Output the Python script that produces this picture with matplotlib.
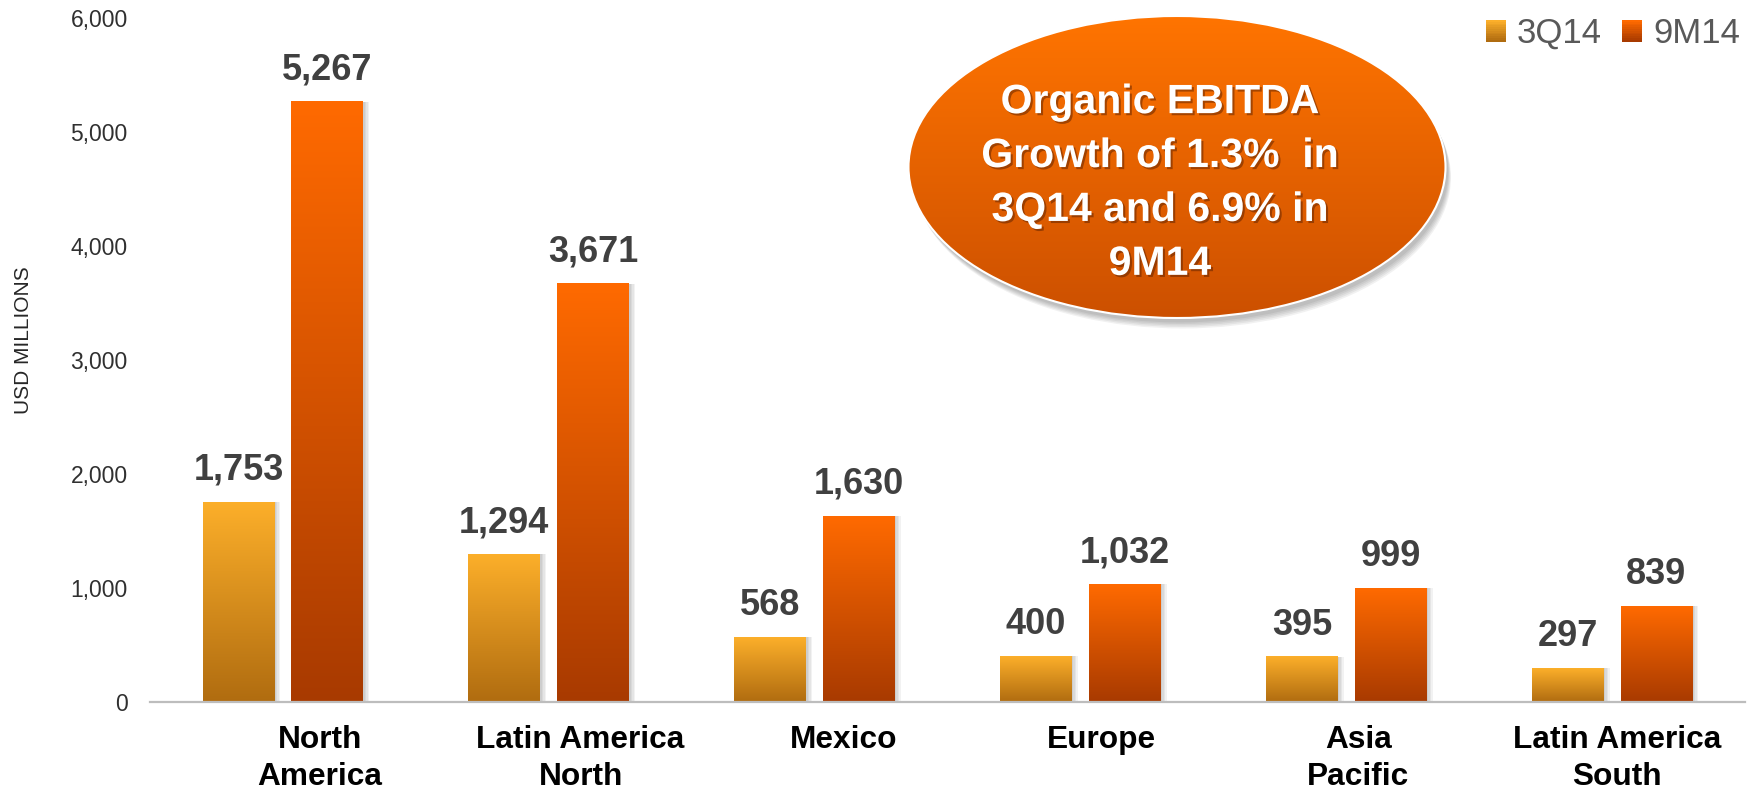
import numpy as np
import matplotlib
matplotlib.use('Agg')
import matplotlib.pyplot as plt
import matplotlib.patheffects as pe
from matplotlib import font_manager
from matplotlib.colors import to_rgb
from matplotlib.patches import Ellipse, Patch, Rectangle
from matplotlib.legend_handler import HandlerBase


# chart data
categories = ['North\nAmerica', 'Latin America\nNorth', 'Mexico', 'Europe',
              'Asia\nPacific', 'Latin America\nSouth']
values_3q14 = [1753, 1294, 568, 400, 395, 297]
values_9m14 = [5267, 3671, 1630, 1032, 999, 839]
series_names = ['3Q14', '9M14']
y_ticks = [0, 1000, 2000, 3000, 4000, 5000, 6000]
bubble_text = 'Organic EBITDA\nGrowth of 1.3%  in\n3Q14 and 6.9% in\n9M14'

# colours (top, bottom) of the gradients
col_3q = ('#FCAF2A', '#B06C10')
col_9m = ('#FF6A00', '#A83A00')
col_bubble = ('#FF7400', '#CC5000')

W, H = 1754, 794
FONT = 'Liberation Sans'


def gradient(top, bottom, n=256):
    # rows go bottom -> top (origin lower)
    t = np.linspace(0, 1, n)[:, None]
    c0 = np.array(to_rgb(bottom))
    c1 = np.array(to_rgb(top))
    g = c0 + (c1 - c0) * t
    return g[:, None, :]


class GradHandler(HandlerBase):
    def __init__(self, top, bottom):
        super().__init__()
        self.top = top
        self.bottom = bottom

    def create_artists(self, legend, orig_handle, xdescent, ydescent,
                       width, height, fontsize, trans):
        n = 12
        c0 = np.array(to_rgb(self.bottom))
        c1 = np.array(to_rgb(self.top))
        arts = []
        for i in range(n):
            c = c0 + (c1 - c0) * i / (n - 1)
            r = Rectangle((-xdescent, -ydescent + i * height / n), width,
                          height / n * 1.05, facecolor=c, edgecolor='none',
                          transform=trans)
            arts.append(r)
        return arts


def main():
    installed = {f.name for f in font_manager.fontManager.ttflist}
    if 'Liberation Sans Narrow' in installed:
        ylab_font, ylab_size = 'Liberation Sans Narrow', 17.5
    else:
        ylab_font, ylab_size = 'Liberation Sans', 15

    fig = plt.figure(figsize=(W / 100, H / 100), dpi=100)
    ax = fig.add_axes([150 / W, 1 - 702 / H, (1745 - 150) / W, (702 - 18) / H])

    x = np.arange(len(categories))
    bw = 0.27
    off = 0.167

    # soft shadows to the right of the bars
    px = 1 / 266.0
    for xs, vals in [(x - off, values_3q14), (x + off, values_9m14)]:
        for k in range(1, 5):
            ax.bar(xs + k * 1.5 * px, vals, width=bw, color='black',
                   alpha=0.05, zorder=1, linewidth=0)

    for xs, vals, cols in [(x - off, values_3q14, col_3q), (x + off, values_9m14, col_9m)]:
        for xi, v in zip(xs, vals):
            ax.imshow(gradient(*cols), extent=[xi - bw / 2, xi + bw / 2, 0, v],
                      origin='lower', aspect='auto', zorder=2,
                      interpolation='bilinear')
            ax.annotate('{:,}'.format(v), (xi, v), xytext=(0, 16),
                        textcoords='offset points', ha='center', va='baseline',
                        fontsize=26, fontweight='bold', color='#404040',
                        family=FONT)

    ax.set_xlim(-0.5, 5.5)
    ax.set_ylim(0, 6000)
    ax.set_aspect('auto')

    ax.set_yticks(y_ticks)
    ax.set_yticklabels(['{:,}'.format(t) for t in y_ticks], fontsize=16.5,
                       color='#303030', family=FONT)

    label_shift = [0.14, 0.12, 0.11, 0.08, 0.045, 0.02]
    ax.set_xticks(x + np.array(label_shift))
    ax.set_xticklabels(categories, fontsize=22.8, fontweight='bold',
                       family=FONT, color='black', linespacing=1.32)
    ax.tick_params(axis='x', length=0, pad=16.5)
    ax.tick_params(axis='y', length=0, pad=16)

    for s in ['top', 'right', 'left']:
        ax.spines[s].set_visible(False)
    ax.spines['bottom'].set_color('#BDBDBD')
    ax.spines['bottom'].set_linewidth(1.6)

    fig.text(23.5 / W, 1 - 340 / H, 'USD MILLIONS', rotation=90, ha='center',
             va='center', fontsize=ylab_size, family=ylab_font,
             color='#262626')

    # legend
    h1 = Patch(label=series_names[0])
    h2 = Patch(label=series_names[1])
    fig.legend(handles=[h1, h2], loc='upper right',
               bbox_to_anchor=(1740 / W, 1 - 17 / H), ncol=2, frameon=False,
               prop={'family': FONT, 'size': 25}, labelcolor='#595959',
               handlelength=0.58, handleheight=0.58, handletextpad=0.32,
               columnspacing=0.57, borderpad=0, borderaxespad=0,
               handler_map={h1: GradHandler(*col_3q), h2: GradHandler(*col_9m)})

    # bubble overlay in pixel coordinates
    ov = fig.add_axes([0, 0, 1, 1], zorder=5)
    ov.set_xlim(0, W)
    ov.set_ylim(H, 0)
    ov.axis('off')
    ov.patch.set_alpha(0)

    cx, cy, ew, eh = 1177, 167, 537, 302
    for k in range(1, 6):
        ov.add_patch(Ellipse((cx + 2 + k * 0.7, cy + 3 + k * 1.5), ew, eh,
                             facecolor='black', alpha=0.055, edgecolor='none'))
    ell = Ellipse((cx, cy), ew, eh, facecolor='none', edgecolor='white',
                  linewidth=1.5, zorder=3)
    ov.add_patch(ell)
    im = ov.imshow(gradient(*col_bubble)[::-1],
                   extent=[cx - ew / 2, cx + ew / 2, cy + eh / 2, cy - eh / 2],
                   origin='upper', aspect='auto', zorder=2, interpolation='bilinear')
    im.set_clip_path(ell)
    ov.set_xlim(0, W)
    ov.set_ylim(H, 0)

    ov.text(1160, 183, bubble_text, ha='center', va='center', fontsize=29.5,
            fontweight='bold', family=FONT, color='white',
            linespacing=1.53, zorder=4,
            path_effects=[pe.withSimplePatchShadow(offset=(1.5, -1.5),
                                                   shadow_rgbFace='#5a2000',
                                                   alpha=0.5)])

    fig.savefig('out.png', dpi=100, facecolor='white')
    return


if __name__ == "__main__":
    main()
